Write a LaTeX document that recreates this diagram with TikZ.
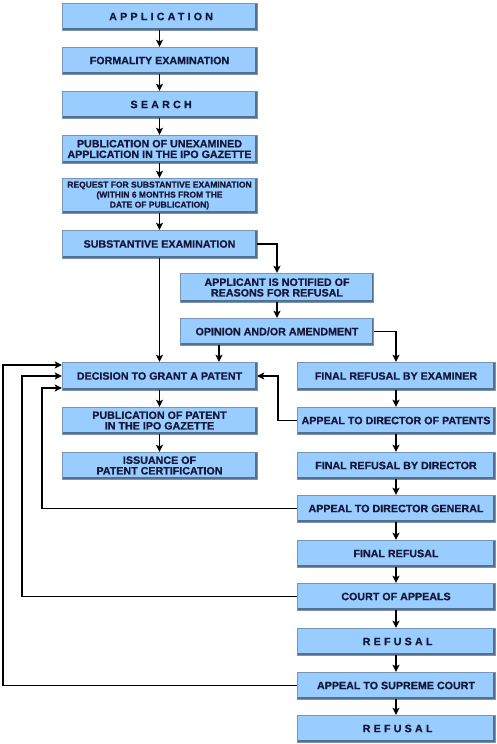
\documentclass[tikz,border=0pt]{standalone}
\usepackage{fontspec}
\setmainfont{Liberation Sans}[BoldFeatures={FakeBold=0.7}]
\newfontfamily\spacedfont{Liberation Sans}[LetterSpace=30,BoldFeatures={FakeBold=0.7}]
\usetikzlibrary{arrows.meta,calc}
\definecolor{boxblue}{RGB}{153,204,255}
\definecolor{boxedge}{RGB}{84,112,140}
\definecolor{boxline}{RGB}{120,150,180}
\definecolor{navy}{RGB}{22,24,58}
\begin{document}
\begin{tikzpicture}[x=1pt,y=-1pt,
 box/.style={fill=boxblue, draw=boxline, line width=0.4pt, inner sep=0pt, align=center, text=navy,
   font=\fontsize{10.7}{10.6}\selectfont\bfseries, minimum height=27pt,
   path picture={\draw[boxedge,line width=4pt] (path picture bounding box.south west) -- (path picture bounding box.south east) -- (path picture bounding box.north east);}},
 lbox/.style={box, minimum width=195pt},
 rbox/.style={box, minimum width=198pt},
 mbox/.style={box, minimum width=193pt},
 sp/.style={font=\spacedfont\fontsize{10.7}{10.6}\selectfont\bfseries},
 arr/.style={draw=black, line width=1.7pt, -{Stealth[length=7pt,width=7pt,inset=1.5pt]}},
]
\useasboundingbox (0,0) rectangle (496,744);
% left column
\node[lbox,sp] (app) at (159.5,16.5) {\kern3.2pt APPLICATION};
\node[lbox] (form) at (159.5,60.5) {FORMALITY EXAMINATION};
\node[lbox,sp] (search) at (159.5,104.5) {\kern3.2pt SEARCH};
\node[lbox, minimum height=28pt] (pubun) at (159.5,149) {PUBLICATION OF UNEXAMINED\\APPLICATION IN THE IPO GAZETTE};
\node[lbox, minimum height=35pt, font=\fontsize{8.5}{10}\selectfont\bfseries] (req) at (159.5,195.5) {REQUEST FOR SUBSTANTIVE EXAMINATION\\(WITHIN 6 MONTHS FROM THE\\DATE OF PUBLICATION)};
\node[lbox, minimum height=28pt] (subst) at (159.5,244) {SUBSTANTIVE EXAMINATION};
% middle
\node[mbox, minimum height=29pt] (applicant) at (277,287.5) {APPLICANT IS NOTIFIED OF\\REASONS FOR REFUSAL};
\node[mbox] (opinion) at (277,331.5) {OPINION AND/OR AMENDMENT};
% left lower
\node[lbox, minimum height=28pt] (dec) at (159.5,376) {DECISION TO GRANT A PATENT};
\node[lbox] (pubpat) at (159.5,420.5) {PUBLICATION OF PATENT\\IN THE IPO GAZETTE};
\node[lbox] (iss) at (159.5,465.5) {ISSUANCE OF\\PATENT CERTIFICATION};
% right column
\node[rbox, minimum height=28pt] (frexam) at (396,376) {FINAL REFUSAL BY EXAMINER};
\node[rbox] (appdp) at (396,420.5) {APPEAL TO DIRECTOR OF PATENTS};
\node[rbox] (frdir) at (396,465.5) {FINAL REFUSAL BY DIRECTOR};
\node[rbox] (appdg) at (396,508.5) {APPEAL TO DIRECTOR GENERAL};
\node[rbox] (final) at (396,553.5) {FINAL REFUSAL};
\node[rbox] (court) at (396,596.5) {COURT OF APPEALS};
\node[rbox,sp] (ref1) at (396,641.5) {\kern3.2pt REFUSAL};
\node[rbox] (appsc) at (396,685.5) {APPEAL TO SUPREME COURT};
\node[rbox,sp] (ref2) at (396,728.5) {\kern3.2pt REFUSAL};
% straight connectors
\foreach \a/\b in {app/form, form/search, search/pubun, pubun/req, req/subst, subst/dec, applicant/opinion, dec/pubpat, pubpat/iss, frexam/appdp, appdp/frdir, frdir/appdg, appdg/final, final/court, court/ref1, ref1/appsc, appsc/ref2}
  \draw[arr] (\a) -- (\b);
% elbow connectors
\draw[arr] (subst.east) -| (applicant.north);
\draw[arr] (opinion.east) -| (frexam.north);
\coordinate (v2) at (219,0);
\draw[arr] (opinion.south -| v2) -- (dec.north -| v2);
\coordinate (v1) at (278,0);
\draw[arr] (appdp.west) -- (appdp.west -| v1) |- (dec.east);
\coordinate (l1) at (3,0);
\coordinate (l2) at (22,0);
\coordinate (l3) at (42,0);
\draw[arr] (appdg.west) -- (appdg.west -| l3) |- ([yshift=-12pt]dec.west);
\draw[arr] (court.west) -- (court.west -| l2) |- (dec.west);
\draw[arr] (appsc.west) -- (appsc.west -| l1) |- ([yshift=11pt]dec.west);
\end{tikzpicture}
\end{document}
